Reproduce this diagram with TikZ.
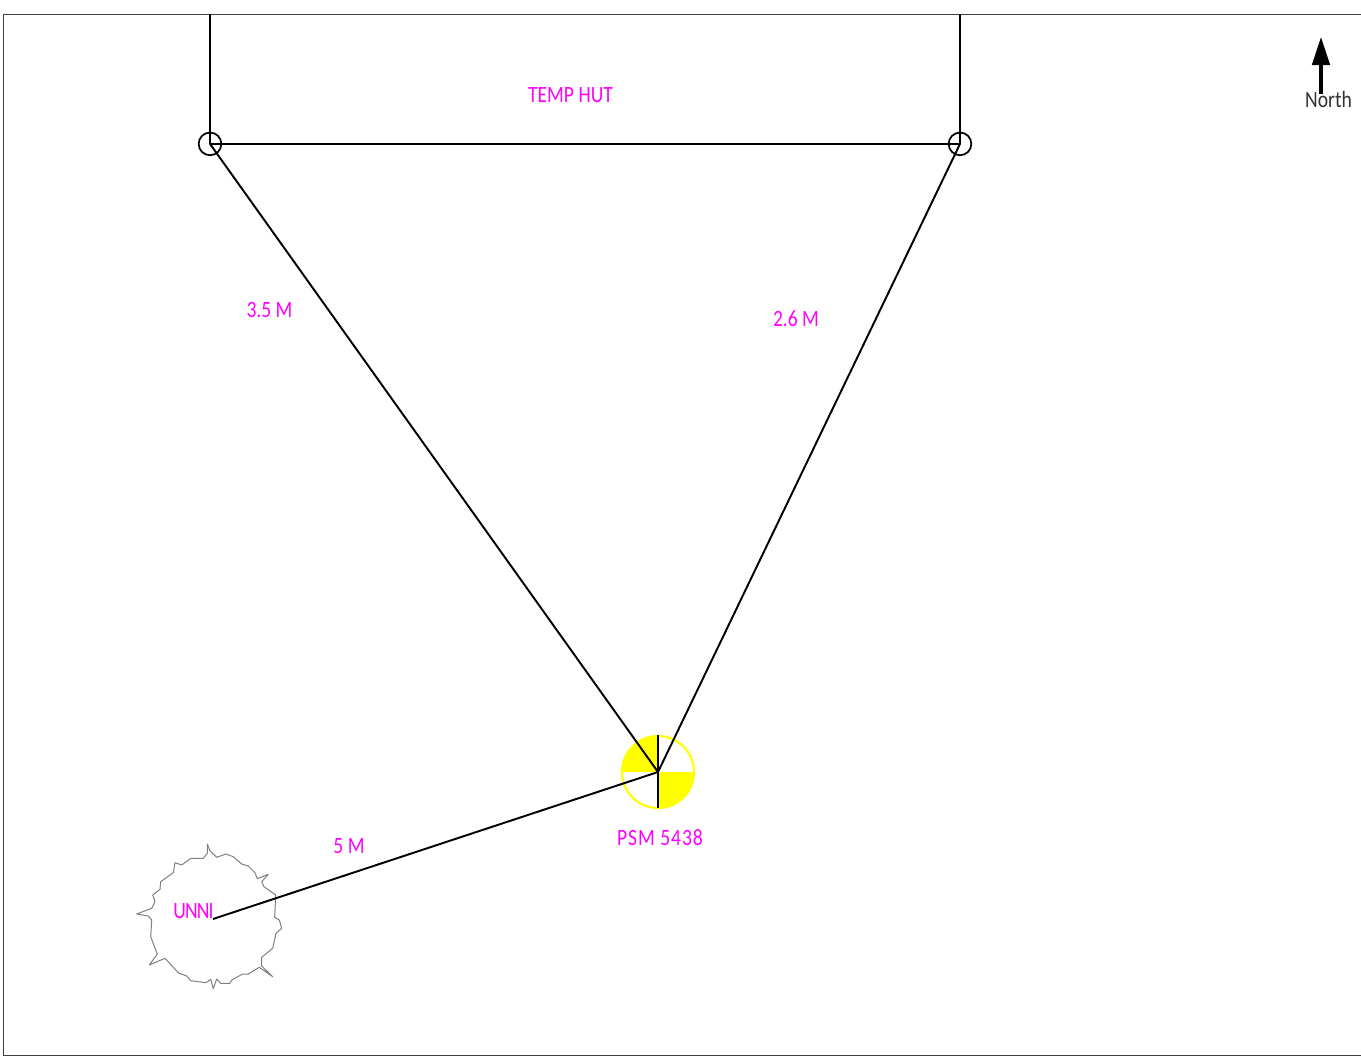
\documentclass[tikz,border=0pt]{standalone}
\usepackage{fontspec}
\setmainfont[FakeStretch=0.84]{Carlito}
\usetikzlibrary{arrows.meta}
\definecolor{mag}{RGB}{255,0,255}
\definecolor{yel}{RGB}{255,255,0}
\tikzset{
  x=0.75pt,y=-0.75pt,
  wire/.style={draw=black,line width=1.45pt},
  pin/.style={circle,draw=black,line width=1.3pt,minimum size=17pt,inner sep=0pt},
  lbl/.style={text=mag,inner sep=0pt,font=\fontsize{17.5pt}{19pt}\selectfont},
  nlbl/.style={text=black!80,inner sep=0pt,font=\fontsize{17.5pt}{19pt}\selectfont},
  frameline/.style={draw=black!75,line width=0.7pt},
  treeline/.style={draw=black!50,line width=0.75pt,line join=round},
}
\begin{document}
\begin{tikzpicture}
\useasboundingbox (0,0) rectangle (1361,1057);
\fill[white] (0,0) rectangle (1361,1057);
\draw[frameline] (1361,14) -- (3,14) -- (3,1055) -- (1361,1055);
% tree
\draw[treeline] (207.3,844) -- (210,850.7) -- (216.7,857.3) -- (226,854) -- (233.3,856.7) -- (241.7,864) -- (248.3,866) -- (255,872.7) -- (257.3,878.7) -- (268.3,874.3) -- (261.7,881.7) -- (264,886.7) -- (275.7,895) -- (274.7,917.3) -- (279.3,920) -- (281.7,928.3) -- (276,933.3) -- (272.7,948.3) -- (261.7,957.3) -- (261.7,966) -- (272.7,976.7) -- (259.3,967.3) -- (248.3,974) -- (242.7,974) -- (231.7,980) -- (230,983.3) -- (220.7,983.3) -- (216.7,979) -- (213.3,988.7) -- (210.7,979.3) -- (206,982.7) -- (190.7,980.7) -- (186.7,976) -- (178.3,972.7) -- (165,958.3) -- (149.3,965) -- (157.3,954) -- (150.7,936.7) -- (151.7,920) -- (148.3,916) -- (136.7,914) -- (151.7,908.3) -- (155,901.7) -- (152.7,895) -- (160,889.3) -- (160.7,881.7) -- (173.3,872.7) -- (175,862.7) -- (181.7,865) -- (190.7,858.3) -- (203.3,858.3) -- (207.3,853.3) -- cycle;
% coordinates
\coordinate (hutL) at (210,143.9);
\coordinate (hutR) at (960,143.9);
\coordinate (hutLtop) at (210,14);
\coordinate (hutRtop) at (960,14);
\coordinate (psm) at (658,772);
\coordinate (unni) at (213,919);
\coordinate (psmT) at (658,735);
\coordinate (psmB) at (658,808);
\coordinate (arrowA) at (1321,94);
\coordinate (arrowB) at (1321,37);
% benchmark
\fill[yel] (psm) -- (622,772) arc[start angle=180,end angle=270,radius=36] -- cycle;
\fill[yel] (psm) -- (694,772) arc[start angle=0,end angle=90,radius=36] -- cycle;
\node[circle,draw=yel,line width=1.6pt,minimum size=54pt,inner sep=0pt] (mark) at (psm) {};
% wires
\draw[wire] (hutLtop) -- (hutL);
\draw[wire] (hutRtop) -- (hutR);
\draw[wire] (hutL) -- (hutR);
\draw[wire] (hutL) -- (psm);
\draw[wire] (hutR) -- (psm);
\draw[wire] (unni) -- (psm);
\draw[wire] (psmT) -- (psmB);
\node[pin] (pinL) at (hutL) {};
\node[pin] (pinR) at (hutR) {};
\draw[black,line width=2.7pt,-{Triangle[length=21pt,width=13pt]}] (arrowA) -- (arrowB);
% labels
\node[lbl] (t1) at (570.5,95) {TEMP HUT};
\node[lbl] (t2) at (269.5,310.5) {3.5 M};
\node[lbl] (t3) at (796,319) {2.6 M};
\node[lbl] (t4) at (349,846.5) {5 M};
\node[lbl] (t5) at (660,838) {\addfontfeature{LetterSpace=4}PSM 5438};
\node[lbl] (t6) at (193.5,911) {\addfontfeature{LetterSpace=-4}UNNI};
\node[nlbl] (t7) at (1328.5,99) {North};
\end{tikzpicture}
\end{document}
